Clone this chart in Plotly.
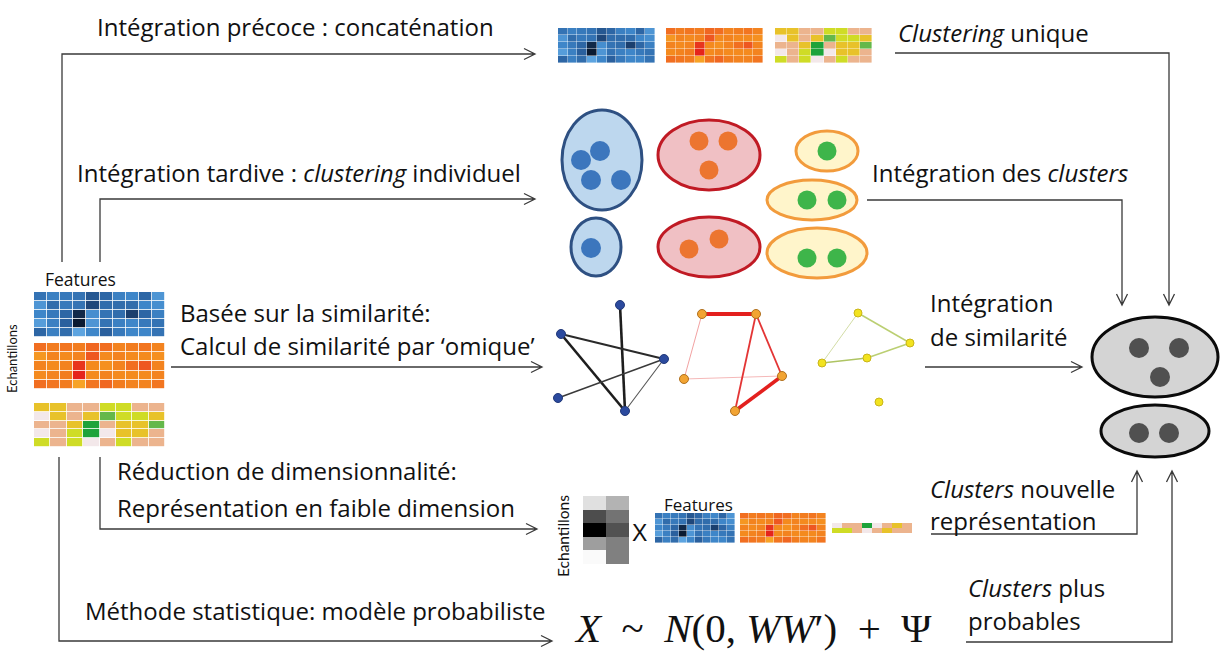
import plotly.graph_objects as go

# ---------------- data ----------------
blue_vals = [
    [0.45, 0.35, 0.40, 0.45, 0.65, 0.55, 0.35, 0.30, 0.55, 0.20],
    [0.20, 0.50, 0.40, 0.45, 0.75, 0.50, 0.50, 0.50, 0.30, 0.25],
    [0.30, 0.40, 0.55, 0.92, 0.25, 0.45, 0.50, 0.80, 0.55, 0.35],
    [0.15, 0.35, 0.60, 1.00, 0.20, 0.45, 0.35, 0.30, 0.40, 0.45],
    [0.55, 0.35, 0.50, 0.10, 0.30, 0.60, 0.40, 0.30, 0.30, 0.45],
]
orange_vals = [
    [0.50, 0.40, 0.45, 0.40, 0.55, 0.50, 0.35, 0.40, 0.45, 0.35],
    [0.20, 0.35, 0.30, 0.35, 0.65, 0.30, 0.35, 0.30, 0.30, 0.25],
    [0.35, 0.30, 0.35, 0.85, 0.30, 0.25, 0.35, 0.50, 0.65, 0.35],
    [0.30, 0.35, 0.40, 0.95, 0.30, 0.35, 0.30, 0.30, 0.30, 0.35],
    [0.50, 0.45, 0.40, 0.10, 0.45, 0.55, 0.40, 0.35, 0.35, 0.45],
]
# categories: 0 pale, 1 peach, 2 mustard, 3 lime, 4 light green, 5 green
yg_vals = [
    [2, 2, 1, 1, 3, 3, 1, 1],
    [0, 2, 1, 2, 4, 3, 3, 2],
    [1, 1, 2, 5, 1, 2, 2, 4],
    [0, 1, 3, 5, 0, 2, 2, 1],
    [3, 1, 3, 0, 1, 3, 1, 1],
]
yg_low_vals = [
    [0, 1, 1, 5, 0, 1, 2, 1],
    [3, 3, 1, 0, 1, 2, 1, 1],
]
gray_vals = [
    [0.12, 0.30],
    [0.70, 0.55],
    [1.00, 0.68],
    [0.38, 0.50],
    [0.02, 0.50],
]

# networks
blue_net_x = [620, 561, 664, 558, 625]
blue_net_y = [305, 334, 359, 398, 411]
blue_edges = [(0, 4), (1, 4), (1, 2), (3, 2), (2, 4)]
red_net_x = [702, 756, 684, 782, 735]
red_net_y = [314, 314, 379, 376, 411]
red_edges = [(0, 1), (0, 2), (2, 3), (1, 3), (1, 4), (4, 3)]
yel_net_x = [858, 910, 867, 822, 879]
yel_net_y = [313, 343, 358, 363, 402]
yel_edges = [(0, 1), (1, 2), (2, 3), (0, 3)]

# clusters (individual clustering)
blue_clusters = [(602, 160, 40, 50), (596, 247, 25, 29)]
blue_dots_x = [600, 581, 591, 621, 591]
blue_dots_y = [151, 160, 180, 180, 248]
red_clusters = [(709, 155, 51, 35), (709, 247, 51, 30)]
red_dots_x = [699, 728, 709, 689, 719]
red_dots_y = [141, 141, 170, 249, 239]
yel_clusters = [(827, 151, 31, 20), (812, 200, 45, 20), (817, 253, 50, 25)]
yel_dots_x = [827, 807, 837, 807, 837]
yel_dots_y = [151, 200, 200, 258, 258]
final_clusters = [(1155, 357, 63, 40), (1155, 431, 54, 26)]
final_dots_x = [1139, 1179, 1160, 1139, 1169]
final_dots_y = [348, 348, 377, 433, 433]

# ---------------- styles ----------------
blue_cs = [[0, '#6DB3EB'], [0.3, '#3E86C9'], [0.6, '#2A609E'], [0.8, '#1B3F6E'], [1, '#0A1A31']]
orange_cs = [[0, '#F8B02A'], [0.3, '#F48A1E'], [0.6, '#EF6022'], [1, '#E31B1B']]
yg_cs = [[0, '#F3E8EA'], [0.1, '#F3E8EA'], [0.1, '#ECB48E'], [0.3, '#ECB48E'],
         [0.3, '#E8C22A'], [0.5, '#E8C22A'], [0.5, '#CFDC26'], [0.7, '#CFDC26'],
         [0.7, '#64B84A'], [0.9, '#64B84A'], [0.9, '#1DA33A'], [1, '#1DA33A']]
gray_cs = [[0, '#FFFFFF'], [1, '#000000']]

W, H = 1223, 654
FONT = "Open Sans"
LINE = '#3a3a3a'

fig = go.Figure()


def heat(z, box, cs, zmin, zmax, gap=1.0):
    x0, y0, x1, y1 = box
    nr, nc = len(z), len(z[0])
    dx = (x1 - x0) / nc
    dy = (y1 - y0) / nr
    fig.add_trace(go.Heatmap(z=z, x0=x0 + dx / 2, dx=dx, y0=y0 + dy / 2, dy=dy,
                             colorscale=cs, zmin=zmin, zmax=zmax, showscale=False,
                             xgap=gap, ygap=gap, hoverinfo='skip'))


# left omics
heat(blue_vals, (34, 292, 165, 337), blue_cs, 0, 1, gap=0.8)
heat(orange_vals, (34, 343, 165, 389), orange_cs, 0, 1, gap=0.8)
heat(yg_vals, (34, 403, 165, 447), yg_cs, 0, 5, gap=0.8)
# concatenation
heat(blue_vals, (558, 28, 655, 63), blue_cs, 0, 1, gap=0.4)
heat(orange_vals, (666, 28, 763, 63), orange_cs, 0, 1, gap=0.4)
heat(yg_vals, (775, 28, 872, 63), yg_cs, 0, 5, gap=0.4)
# low-dim
heat(gray_vals, (583, 496, 629, 564), gray_cs, 0, 1, gap=0)
heat(blue_vals, (655, 513, 735, 543), blue_cs, 0, 1, gap=0.4)
heat(orange_vals, (740, 513, 826, 543), orange_cs, 0, 1, gap=0.4)
heat(yg_low_vals, (832, 523, 912, 533), yg_cs, 0, 5, gap=0)


# networks
def network(xs, ys, edges, widths, colors, node_color, node_line, node_size):
    for (i, j), w, c in zip(edges, widths, colors):
        fig.add_trace(go.Scatter(x=[xs[i], xs[j]], y=[ys[i], ys[j]], mode='lines',
                                 line=dict(color=c, width=w), hoverinfo='skip'))
    fig.add_trace(go.Scatter(x=xs, y=ys, mode='markers', hoverinfo='skip',
                             marker=dict(size=node_size, color=node_color,
                                         line=dict(color=node_line, width=1))))


network(blue_net_x, blue_net_y, blue_edges, [2.6, 2.6, 2.0, 1.5, 1.1],
        ['#1e1e1e', '#1e1e1e', '#2a2a2a', '#3a3a3a', '#555555'], '#2B4A9E', '#22397a', 9)
network(red_net_x, red_net_y, red_edges, [4.2, 1.0, 1.0, 1.8, 1.8, 3.6],
        ['#E3201E', '#F2A2A2', '#F5B8B8', '#E33535', '#E33535', '#E3201E'], '#F2A433', '#B0701E', 9)
network(yel_net_x, yel_net_y, yel_edges, [1.5, 1.5, 1.5, 1.0],
        ['#BBCF72', '#BBCF72', '#AEC463', '#D3DDA6'], '#F2E31F', '#C9B51A', 8)

# ellipses
shapes = []


def ell(c, fill, stroke, w=3):
    cx, cy, rx, ry = c
    shapes.append(dict(type='circle', xref='x', yref='y', x0=cx - rx, x1=cx + rx,
                       y0=cy - ry, y1=cy + ry, fillcolor=fill,
                       line=dict(color=stroke, width=w), layer='below'))


for c in blue_clusters:
    ell(c, '#BDD7EE', '#2E5082')
for c in red_clusters:
    ell(c, '#F0C0C4', '#C01A24')
for c in yel_clusters:
    ell(c, '#FFF5CB', '#F29B3C')
for c in final_clusters:
    ell(c, '#D4D4D4', '#0a0a0a', 3)


def dots(xs, ys, color, size):
    fig.add_trace(go.Scatter(x=xs, y=ys, mode='markers', hoverinfo='skip',
                             marker=dict(size=size, color=color, line=dict(width=0))))


dots(blue_dots_x, blue_dots_y, '#3C76BD', 20)
dots(red_dots_x, red_dots_y, '#EC7530', 19)
dots(yel_dots_x, yel_dots_y, '#3EB54A', 19)
dots(final_dots_x, final_dots_y, '#505050', 20)


# connector lines with open chevron arrowheads
def poly_arrow(pts, direction):
    d = 'M ' + ' L '.join(f'{x},{y}' for x, y in pts)
    tx, ty = pts[-1]
    L, Wd = 11, 5.5
    if direction == 'right':
        d += f' M {tx - L},{ty - Wd} L {tx},{ty} L {tx - L},{ty + Wd}'
    elif direction == 'down':
        d += f' M {tx - Wd},{ty - L} L {tx},{ty} L {tx + Wd},{ty - L}'
    elif direction == 'up':
        d += f' M {tx - Wd},{ty + L} L {tx},{ty} L {tx + Wd},{ty + L}'
    shapes.append(dict(type='path', path=d, xref='x', yref='y',
                       line=dict(color=LINE, width=1.3)))


poly_arrow([(62, 262), (62, 54), (535, 54)], 'right')
poly_arrow([(100, 262), (100, 199), (535, 199)], 'right')
poly_arrow([(171, 367), (542, 367)], 'right')
poly_arrow([(100, 457), (100, 529), (537, 529)], 'right')
poly_arrow([(59, 457), (59, 641), (552, 641)], 'right')
poly_arrow([(895, 53), (1169, 53), (1169, 305)], 'down')
poly_arrow([(867, 200), (1122, 200), (1122, 305)], 'down')
poly_arrow([(925, 367), (1082, 367)], 'right')
poly_arrow([(931, 534), (1137, 534), (1137, 471)], 'up')
poly_arrow([(966, 642), (1172, 642), (1172, 471)], 'up')

# text
ann = []
MAIN = 24


def txt(x, y, s, size=MAIN, angle=0, font=FONT, xanchor='left', yanchor='middle',
        color='#111111'):
    ann.append(dict(x=x, y=y, xref='x', yref='y', text=s, showarrow=False,
                    xanchor=xanchor, yanchor=yanchor, textangle=angle,
                    font=dict(family=font, size=size, color=color)))


txt(95, 26, 'Intégration précoce : concaténation')
txt(896, 32, '<i>Clustering</i> unique')
txt(75, 172, 'Intégration tardive : <i>clustering</i> individuel')
txt(870, 172, 'Intégration des <i>clusters</i>')
txt(80, 279, 'Features', size=17.5, xanchor='center')
txt(12, 359, 'Echantillons', size=13, angle=-90, xanchor='center', font='Lato')
txt(178, 312, 'Basée sur la similarité:')
txt(178, 345, 'Calcul de similarité par ‘omique’')
txt(928, 302, 'Intégration')
txt(928, 336, 'de similarité')
txt(115, 470, 'Réduction de dimensionnalité:')
txt(115, 507, 'Représentation en faible dimension')
txt(928, 488, '<i>Clusters</i> nouvelle')
txt(928, 520, 'représentation')
txt(83, 610, 'Méthode statistique: modèle probabiliste')
txt(966, 587, '<i>Clusters</i> plus')
txt(966, 620, 'probables')
txt(698, 504, 'Features', size=17, xanchor='center')
txt(563, 536, 'Echantillons', size=15.5, angle=-90, xanchor='center', font='Lato')
txt(639, 533, 'X', size=23, xanchor='center', font='Liberation Sans')
txt(572, 653, '<i>X</i>  ~  <i>N</i>(0, <i>WW</i>′)  +  Ψ', size=41, font='Liberation Serif',
    yanchor='bottom')

fig.update_layout(
    width=W, height=H, margin=dict(l=0, r=0, t=0, b=0),
    paper_bgcolor='white', plot_bgcolor='white', showlegend=False,
    xaxis=dict(range=[0, W], visible=False, fixedrange=True),
    yaxis=dict(range=[H, 0], visible=False, fixedrange=True),
    shapes=shapes, annotations=ann,
)
fig.write_html("out.html", config={'displayModeBar': False},
               post_script="document.body.style.margin='0px';document.body.style.overflow='hidden';")
